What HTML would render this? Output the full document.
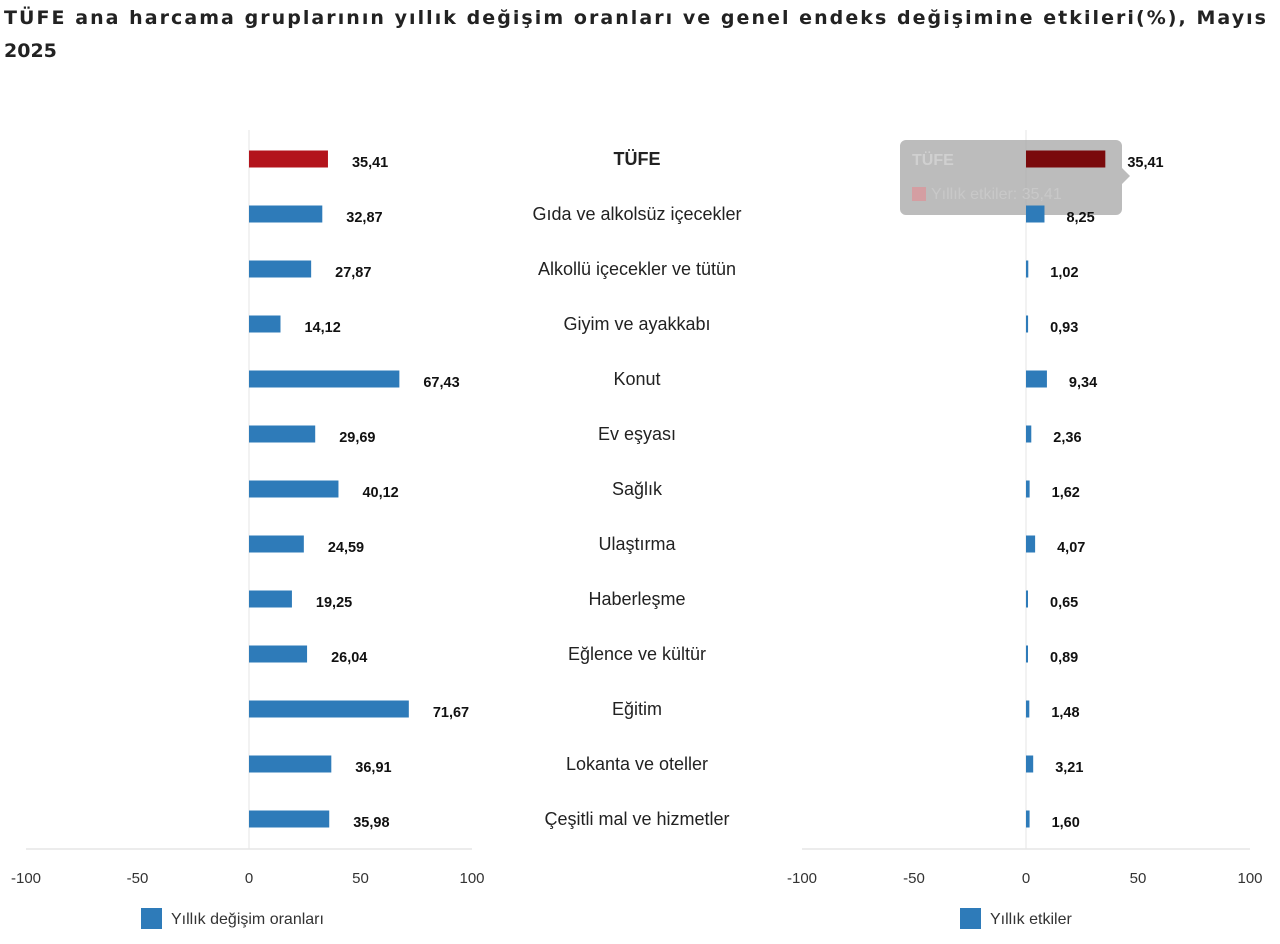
<!DOCTYPE html>
<html><head><meta charset="utf-8"><style>
body{margin:0;background:#fff;width:1280px;height:939px;overflow:hidden;font-family:"Liberation Sans",sans-serif}
</style></head><body>
<svg id="s" width="1280" height="939" xmlns="http://www.w3.org/2000/svg" font-family="Liberation Sans, sans-serif">
<text x="4" y="24" font-size="19" font-weight="bold" fill="#222" font-family="DejaVu Sans, sans-serif" textLength="1262" lengthAdjust="spacing">TÜFE ana harcama gruplarının yıllık değişim oranları ve genel endeks değişimine etkileri(%), Mayıs</text>
<text x="4" y="57" font-size="19" font-weight="bold" fill="#222" font-family="DejaVu Sans, sans-serif">2025</text>
</svg>
<script>
var s=document.getElementById('s'),h='';
var cats=["TÜFE","Gıda ve alkolsüz içecekler","Alkollü içecekler ve tütün","Giyim ve ayakkabı","Konut","Ev eşyası","Sağlık","Ulaştırma","Haberleşme","Eğlence ve kültür","Eğitim","Lokanta ve oteller","Çeşitli mal ve hizmetler"];
var a=[35.41,32.87,27.87,14.12,67.43,29.69,40.12,24.59,19.25,26.04,71.67,36.91,35.98];
var b=[35.41,8.25,1.02,0.93,9.34,2.36,1.62,4.07,0.65,0.89,1.48,3.21,1.60];
var f=v=>v.toFixed(2).replace('.',',');
h+='<line x1="249" y1="130" x2="249" y2="849" stroke="#e6e6e6"/><line x1="1026" y1="130" x2="1026" y2="849" stroke="#e6e6e6"/>';
h+='<line x1="26" y1="849" x2="472" y2="849" stroke="#e6e6e6" stroke-width="1.5"/><line x1="802" y1="849" x2="1250" y2="849" stroke="#e6e6e6" stroke-width="1.5"/>';
h+='<path d="M906,140 H1116 a6,6 0 0 1 6,6 V168 L1130,176 L1122,184 V209 a6,6 0 0 1 -6,6 H906 a6,6 0 0 1 -6,-6 V146 a6,6 0 0 1 6,-6Z" fill="rgba(165,165,165,0.75)"/>';
h+='<text x="912" y="165" font-size="16" font-weight="bold" fill="#d0d0d0">TÜFE</text><rect x="912" y="187" width="14" height="14" fill="#d49ea2"/><text x="931" y="199" font-size="16" fill="#c8c8c8">Yıllık etkiler: 35,41</text>';
for(var i=0;i<13;i++){var c=159+55*i;
var wa=a[i]*2.23,wb=b[i]*2.24;
h+='<rect x="249" y="'+(c-8.5)+'" width="'+wa+'" height="17" fill="'+(i?'#2e7bb9':'#b3141c')+'"/>';
h+='<text x="'+(249+wa+24)+'" y="'+(c+8)+'" font-size="14.5" font-weight="bold" fill="#111">'+f(a[i])+'</text>';
h+='<rect x="1026" y="'+(c-8.5)+'" width="'+Math.max(wb,2)+'" height="17" fill="'+(i?'#2e7bb9':'#7a0a0c')+'"/>';
h+='<text x="'+(1026+Math.max(wb,2)+22)+'" y="'+(c+8)+'" font-size="14.5" font-weight="bold" fill="#111">'+f(b[i])+'</text>';
h+='<text x="637" y="'+(c+6)+'" text-anchor="middle" font-size="18" fill="#222"'+(i?'':' font-weight="bold"')+'>'+cats[i]+'</text>';}
[[26,-100],[137.5,-50],[249,0],[360.5,50],[472,100]].forEach(t=>h+='<text x="'+t[0]+'" y="883" text-anchor="middle" font-size="15" fill="#333">'+t[1]+'</text>');
[[802,-100],[914,-50],[1026,0],[1138,50],[1250,100]].forEach(t=>h+='<text x="'+t[0]+'" y="883" text-anchor="middle" font-size="15" fill="#333">'+t[1]+'</text>');
h+='<rect x="141" y="908" width="21" height="21" fill="#2e7bb9"/><text x="171" y="924" font-size="16" fill="#333">Yıllık değişim oranları</text>';
h+='<rect x="960" y="908" width="21" height="21" fill="#2e7bb9"/><text x="990" y="924" font-size="16" fill="#333">Yıllık etkiler</text>';
s.innerHTML+=h;
</script>
</body></html>
